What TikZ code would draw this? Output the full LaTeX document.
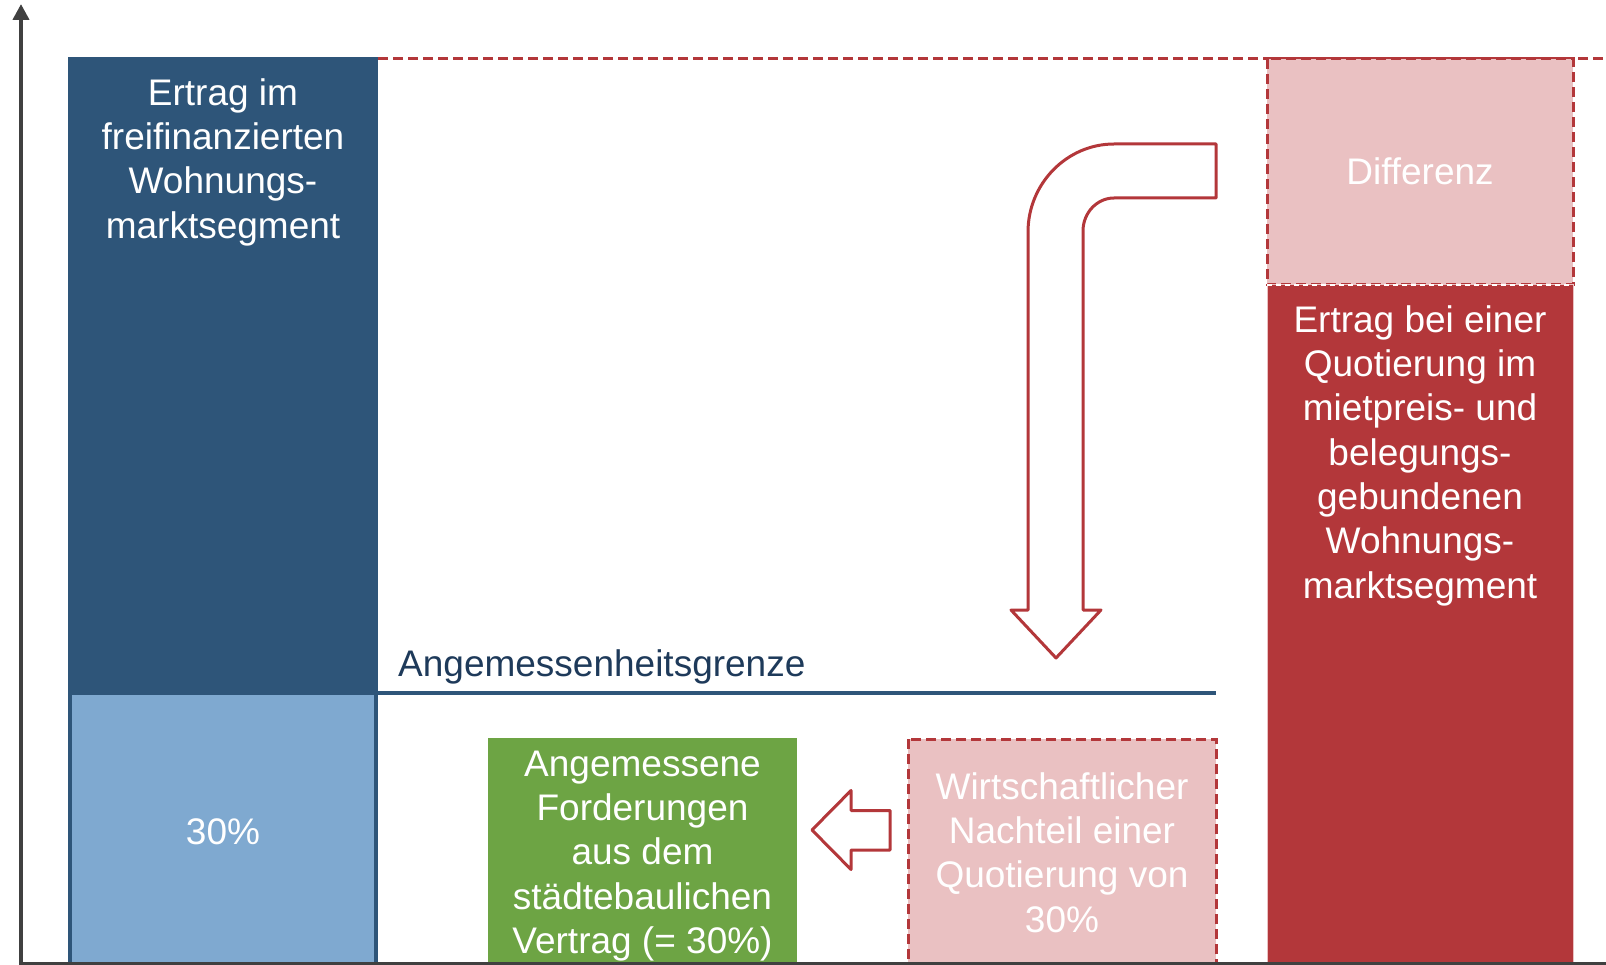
\documentclass[tikz,border=0pt]{standalone}
\usepackage{fontspec}
\setmainfont{Liberation Sans}
\usetikzlibrary{arrows.meta}
\definecolor{blueD}{HTML}{2E5579}
\definecolor{blueL}{HTML}{7FA9D0}
\definecolor{redD}{HTML}{B3373A}
\definecolor{pinkL}{HTML}{EAC1C2}
\definecolor{greenD}{HTML}{6DA444}
\definecolor{axisgray}{HTML}{404040}
\definecolor{navytext}{HTML}{1E3A5A}
\tikzset{
  boxtxt/.style={text=white, font=\fontsize{37}{44.3}\selectfont, align=center, inner sep=0pt},
  dashred/.style={draw=redD, line width=3pt, dash pattern=on 10pt off 5pt},
  hollowarrow/.style={draw=redD, fill=white, line width=3pt, line join=round},
  axisline/.style={draw=axisgray, line width=4pt},
}
\begin{document}
\begin{tikzpicture}[x=1pt,y=-1pt]
\useasboundingbox (0,0) rectangle (1606,965);
\begin{scope}
\clip (0,0) rectangle (1606,965);
% left column
\fill[blueD] (68,57) rectangle (378,970);
\fill[blueL] (72,695) rectangle (374,970);
% threshold line
\coordinate (gl) at (378,693);
\coordinate (gr) at (1216,693);
\draw[blueD, line width=3.5pt] (gl) -- (gr);
% top dashed line
\coordinate (tl) at (378,59);
\coordinate (tr) at (1610,59);
\draw[dashred] (tl) -- (tr);
% right column
\filldraw[fill=pinkL, dashred] (1267,59) rectangle (1573,285);
\filldraw[fill=redD, draw=pinkL, line width=1pt] (1267,285) rectangle (1573,975);
\draw[white, line width=1.5pt, dash pattern=on 5pt off 4pt] (1267,285) -- (1573,285);
% bottom boxes
\fill[greenD] (488,738) rectangle (797,975);
\filldraw[fill=pinkL, dashred] (908,739) rectangle (1216,985);
% bent arrow
\draw[hollowarrow] (1216,144) -- (1114,144)
  .. controls (1067,144) and (1028,183.4) .. (1028,232)
  -- (1028,610) -- (1011,610) -- (1056,658) -- (1101,610) -- (1083,610)
  -- (1083,231)
  .. controls (1083,212.8) and (1097,198) .. (1114,198)
  -- (1216,198) -- cycle;
% left arrow
\draw[hollowarrow] (890,810.5) -- (851,810.5) -- (851,790.5) -- (812,830)
  -- (851,869.5) -- (851,850) -- (890,850) -- cycle;
% axes
\coordinate (ab) at (21,963.5);
\coordinate (at) at (21,4);
\coordinate (br) at (1610,963.5);
\draw[draw=axisgray, line width=2.5pt] (19,963.5) -- (br);
\draw[axisline, -{Triangle[length=16pt,width=16pt]}] (ab) -- (at);
\end{scope}
% texts
\node[boxtxt, anchor=north] (t1) at (223,74) {\strut Ertrag im\\freifinanzierten\\Wohnungs-\\marktsegment};
\node[boxtxt, anchor=base] (t2) at (223,844) {30\%};
\node[boxtxt, anchor=base] (t3) at (1420,185) {Differenz};
\node[boxtxt, anchor=north] (t4) at (1420,301) {\strut Ertrag bei einer\\Quotierung im\\mietpreis- und\\belegungs-\\gebundenen\\Wohnungs-\\marktsegment};
\node[boxtxt, anchor=north] (t5) at (642.5,745) {\strut Angemessene\\Forderungen\\aus dem\\städtebaulichen\\Vertrag (= 30\%)};
\node[boxtxt, anchor=north] (t6) at (1062,768) {\strut Wirtschaftlicher\\Nachteil einer\\Quotierung von\\30\%};
\node[text=navytext, font=\fontsize{37}{44.3}\selectfont, inner sep=0pt, anchor=base west] (t7) at (398,676) {Angemessenheitsgrenze};
\end{tikzpicture}
\end{document}
